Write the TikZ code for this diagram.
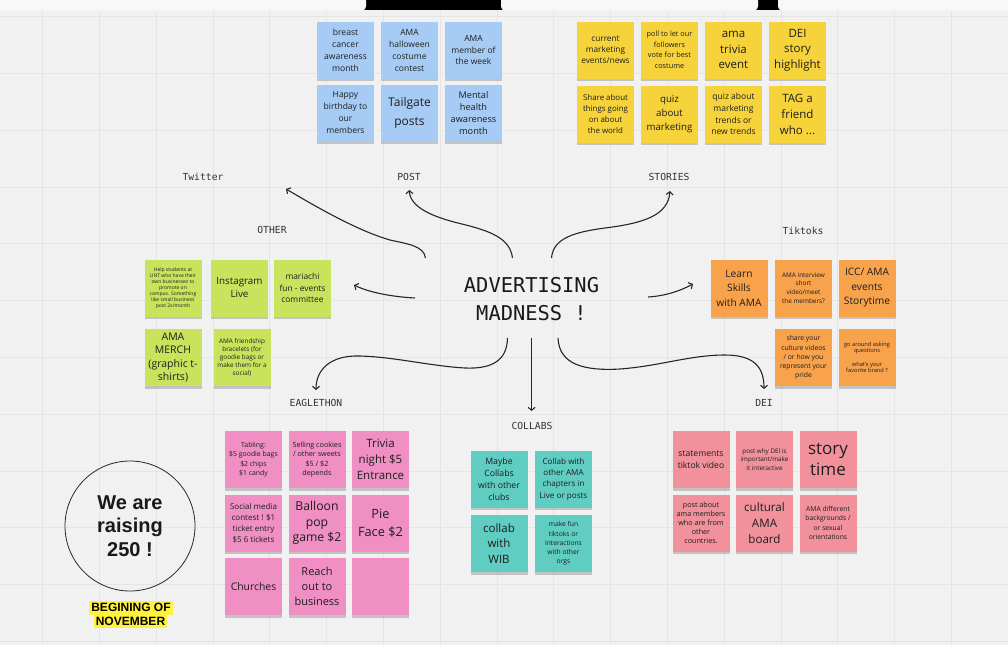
\documentclass[tikz,border=0pt]{standalone}
\usepackage{fontspec}
\setmainfont{Open Sans}
\setmonofont{DejaVu Sans Mono}
\newfontfamily\posterfont{Liberation Sans}
\usepackage{xcolor}
\usetikzlibrary{arrows.meta,shadows}

\definecolor{board}{HTML}{F1F1F1}
\definecolor{gridgray}{HTML}{E5E5E5}
\definecolor{notetext}{HTML}{1E1E1E}
\definecolor{postblue}{HTML}{A6CCF5}
\definecolor{storyyellow}{HTML}{F6D33A}
\definecolor{othergreen}{HTML}{C9E45C}
\definecolor{tiktokorange}{HTML}{F9A24C}
\definecolor{eaglepink}{HTML}{F08FC3}
\definecolor{collabteal}{HTML}{5FCDC2}
\definecolor{deipink}{HTML}{F0919C}
\definecolor{marker}{HTML}{FFF23C}

\newcommand\fs[2]{\fontsize{#1}{#2}\selectfont}

\tikzset{
  sticky/.style={rectangle, minimum width=57pt, minimum height=57pt, inner sep=1pt,
    align=center, text=notetext,
    drop shadow={shadow xshift=0pt, shadow yshift=-2.5pt, opacity=.28, fill=black!70}},
  heading/.style={font=\ttfamily\fs{9.7}{12}, text=black!80},
  branch/.style={draw=black!85, line width=1.1pt, -{Straight Barb[length=3pt,width=7pt]}},
  gridline/.style={draw=gridgray, line width=0.7pt},
}

\begin{document}
\begin{tikzpicture}[x=1pt, y=-1pt, node distance=64pt]
	\useasboundingbox (0,0) rectangle (1008,645);
	\fill[board] (0,0) rectangle (1008,645);
	\foreach \i in {0,...,17} \draw[gridline] ({42.6+56.8*\i},0) -- ++(0,645);
	\foreach \j in {0,...,11} \draw[gridline] (0,{16.6+56.8*\j}) -- ++(1008,0);
	
	% top bar
	\fill[black] (0,0) rectangle (1008,10);
	\fill[board!50!white, rounded corners=4pt] (-6,-6) rectangle (366,10.5);
	\fill[board!50!white, rounded corners=4pt] (501,-6) rectangle (758,10.5);
	\fill[board!50!white, rounded corners=4pt] (778,-6) rectangle (1014,10.5);
	
	% centre
	\node[font=\ttfamily\fs{20.4}{28}, align=center, text=black!90](madness) at (531.5,299){ADVERTISING\\MADNESS !};
	
	% labels
	\node[heading](twitter) at (203,177){Twitter};
	\node[heading](post) at (409,177){POST};
	\node[heading](stories) at (669,177){STORIES};
	\node[heading](other) at (272,230){OTHER};
	\node[heading](tiktoks) at (803,231){Tiktoks};
	\node[heading](eaglethon) at (316,403){EAGLETHON};
	\node[heading](collabs) at (532,426){COLLABS};
	\node[heading](dei) at (764,403){DEI};
	
	% POST
	\node[sticky, fill=postblue, font=\fs{8.6}{12}](P1) at (345.5,50){breast\\cancer\\awareness\\month};
	\node[sticky, fill=postblue, font=\fs{8.5}{12}, right of=P1](P2){AMA\\halloween\\costume\\contest};
	\node[sticky, fill=postblue, font=\fs{8.5}{11.7}, right of=P2](P3){AMA\\member of\\the week};
	\node[sticky, fill=postblue, font=\fs{8.5}{12}, node distance=63pt, below of=P1](P4){Happy\\birthday to\\our\\members};
	\node[sticky, fill=postblue, font=\fs{12}{18.5}, right of=P4](P5){Tailgate\\posts};
	\node[sticky, fill=postblue, font=\fs{9.2}{12}, right of=P5](P6){Mental\\health\\awareness\\month};
	
	% STORIES
	\node[sticky, fill=storyyellow, font=\fs{8.3}{11}](S1) at (605.5,50){current\\marketing\\events/news};
	\node[sticky, fill=storyyellow, font=\fs{7.3}{10.5}, right of=S1](S2){poll to let our\\followers\\vote for best\\costume};
	\node[sticky, fill=storyyellow, font=\fs{11.5}{15.7}, right of=S2](S3){ama\\trivia\\event};
	\node[sticky, fill=storyyellow, font=\fs{11.5}{15.5}, right of=S3](S4){DEI\\story\\highlight};
	\node[sticky, fill=storyyellow, font=\fs{7.9}{11}, below of=S1](S5){Share about\\things going\\on about\\the world};
	\node[sticky, fill=storyyellow, font=\fs{9.7}{14}, right of=S5](S6){quiz\\about\\marketing};
	\node[sticky, fill=storyyellow, font=\fs{8.5}{11.8}, right of=S6](S7){quiz about\\marketing\\trends or\\new trends};
	\node[sticky, fill=storyyellow, font=\fs{11.5}{16}, right of=S7](S8){TAG a\\friend\\who ...};
	
	% OTHER
	\node[sticky, fill=othergreen, font=\fs{5}{6}](O1) at (173,288){Help students at\\UNT who have their\\own businesses to\\promote on\\campus. Something\\like small business\\post 2x/month};
	\node[sticky, fill=othergreen, font=\fs{9.8}{13}, node distance=66.5pt, right of=O1](O2){Instagram\\Live};
	\node[sticky, fill=othergreen, font=\fs{8.4}{11.7}, node distance=63pt, right of=O2](O3){mariachi\\fun - events\\committee};
	\node[sticky, fill=othergreen, font=\fs{10.5}{13.3}, node distance=69.5pt, below of=O1](O4){AMA\\MERCH\\(graphic t-\\shirts)};
	\node[sticky, fill=othergreen, font=\fs{6.4}{7.8}, node distance=69pt, right of=O4](O5){AMA friendship\\bracelets (for\\goodie bags or\\make them for a\\social)};
	
	% TIKTOKS
	\node[sticky, fill=tiktokorange, font=\fs{10.2}{14.5}](T1) at (739,288){Learn\\Skills\\with AMA};
	\node[sticky, fill=tiktokorange, font=\fs{6.4}{8.7}, node distance=64.5pt, right of=T1](T2){AMA interview\\short\\video/meet\\the members?};
	\node[sticky, fill=tiktokorange, font=\fs{10.2}{14.5}, node distance=63.5pt, right of=T2](T3){ICC/ AMA\\events\\Storytime};
	\node[sticky, fill=tiktokorange, font=\fs{6.8}{9.2}, node distance=69.5pt, below of=T2](T4){share your\\culture videos\\/ or how you\\represent your\\pride};
	\node[sticky, fill=tiktokorange, font=\fs{5.7}{6.4}, node distance=69.5pt, below of=T3](T5){go around asking\\questions\\[7pt]what's your\\favorite brand ?};
	
	% EAGLETHON
	\node[sticky, fill=eaglepink, font=\fs{6.9}{9.5}](E1) at (253.5,459.5){Tabling:\\\$5 goodie bags\\\$2 chips\\\$1 candy};
	\node[sticky, fill=eaglepink, font=\fs{7.2}{9.4}, node distance=63.5pt, right of=E1](E2){Selling cookies\\/ other sweets\\\$5 / \$2\\depends};
	\node[sticky, fill=eaglepink, font=\fs{11.5}{16}, node distance=63.5pt, right of=E2](E3){Trivia\\night \$5\\Entrance};
	\node[sticky, fill=eaglepink, font=\fs{8}{10.9}, node distance=63.5pt, below of=E1](E4){Social media\\contest ! \$1\\ticket entry\\\$5 6 tickets};
	\node[sticky, fill=eaglepink, font=\fs{12.2}{15.8}, node distance=63.5pt, right of=E4](E5){Balloon\\pop\\game \$2};
	\node[sticky, fill=eaglepink, font=\fs{12.8}{18}, node distance=63.5pt, right of=E5](E6){Pie\\Face \$2};
	\node[sticky, fill=eaglepink, font=\fs{10.4}{14}, node distance=63.5pt, below of=E4](E7){Churches};
	\node[sticky, fill=eaglepink, font=\fs{11}{15.3}, node distance=63.5pt, right of=E7](E8){Reach\\out to\\business};
	\node[sticky, fill=eaglepink, node distance=63.5pt, right of=E8](E9){};
	
	% COLLABS
	\node[sticky, fill=collabteal, font=\fs{8.7}{12}](C1) at (499,479){Maybe\\Collabs\\with other\\clubs};
	\node[sticky, fill=collabteal, font=\fs{8.1}{11.3}, node distance=64.5pt, right of=C1](C2){Collab with\\other AMA\\chapters in\\Live or posts};
	\node[sticky, fill=collabteal, font=\fs{11.5}{15.5}, node distance=64.5pt, below of=C1](C3){collab\\with\\WIB};
	\node[sticky, fill=collabteal, font=\fs{6.7}{9.2}, node distance=64.5pt, right of=C3](C4){make fun\\tiktoks or\\interactions\\with other\\orgs};
	
	% DEI
	\node[sticky, fill=deipink, font=\fs{8.6}{11.7}](D1) at (701,459.5){statements\\tiktok video};
	\node[sticky, fill=deipink, font=\fs{6.3}{8.7}, node distance=63.5pt, right of=D1](D2){post why DEI is\\important/make\\it interactive};
	\node[sticky, fill=deipink, font=\fs{17}{21.7}, node distance=63.5pt, right of=D2](D3){story\\time};
	\node[sticky, fill=deipink, font=\fs{7.2}{9}, node distance=63.5pt, below of=D1](D4){post about\\ama members\\who are from\\other\\countries.};
	\node[sticky, fill=deipink, font=\fs{11.6}{15.8}, node distance=63.5pt, right of=D4](D5){cultural\\AMA\\board};
	\node[sticky, fill=deipink, font=\fs{6.8}{9.2}, node distance=63.5pt, right of=D5](D6){AMA different\\backgrounds /\\or sexual\\orientations};
	
	% goal
	\node[draw=black!85, line width=0.8pt, circle, minimum size=130pt, align=center, font=\posterfont\bfseries\fs{20}{23.5}, text=black!90](goal) at (130,526){We are\\raising\\250 !};
	\node[fill=marker, inner xsep=2pt, inner ysep=0.8pt, text height=9.5pt, text depth=2.5pt, font=\posterfont\bfseries\fs{12}{14}](begin) at (131,608){BEGINING OF};
	\node[fill=marker, inner xsep=2pt, inner ysep=0.8pt, text height=9.5pt, text depth=2.5pt, font=\posterfont\bfseries\fs{12}{14}](november) at (130.5,621.5){NOVEMBER};
	
	% arrows
	\coordinate (tw-a) at (425.5,258);
	\coordinate (tw-b) at (286,189);
	\coordinate (po-a) at (512.5,258);
	\coordinate (po-b) at (409.3,190);
	\coordinate (st-a) at (551.5,258);
	\coordinate (st-b) at (670,191);
	\coordinate (ot-a) at (415,298);
	\coordinate (ot-b) at (354,285);
	\coordinate (tt-a) at (648,297);
	\coordinate (tt-b) at (693,284);
	\coordinate (ea-a) at (507.5,338);
	\coordinate (ea-b) at (316,390);
	\coordinate (co-a) at (531.6,338);
	\coordinate (co-b) at (531.6,411);
	\coordinate (de-a) at (558,338);
	\coordinate (de-b) at (764,389);
	
	\draw[branch] (tw-a) .. controls (424,246) and (408,244) .. (390,240) .. controls (355,230) and (310,203) .. (tw-b);
	\draw[branch] (po-a) .. controls (510,238) and (490,231) .. (462,224) .. controls (432,217) and (410,207) .. (po-b);
	\draw[branch] (st-a) .. controls (553,238) and (575,232) .. (605,228) .. controls (645,223) and (668,215) .. (st-b);
	\draw[branch] (ot-a) .. controls (395,297) and (370,293) .. (ot-b);
	\draw[branch] (tt-a) .. controls (665,296) and (680,291) .. (tt-b);
	\draw[branch] (ea-a) .. controls (507,362) and (490,369) .. (465,368) .. controls (430,366) and (395,357) .. (360,356) .. controls (330,355) and (316,370) .. (ea-b);
	\draw[branch] (co-a) -- (co-b);
	\draw[branch] (de-a) .. controls (559,365) and (585,371) .. (620,369) .. controls (660,366) and (690,355) .. (725,355) .. controls (755,355) and (764,368) .. (de-b);
\end{tikzpicture}
\end{document}
